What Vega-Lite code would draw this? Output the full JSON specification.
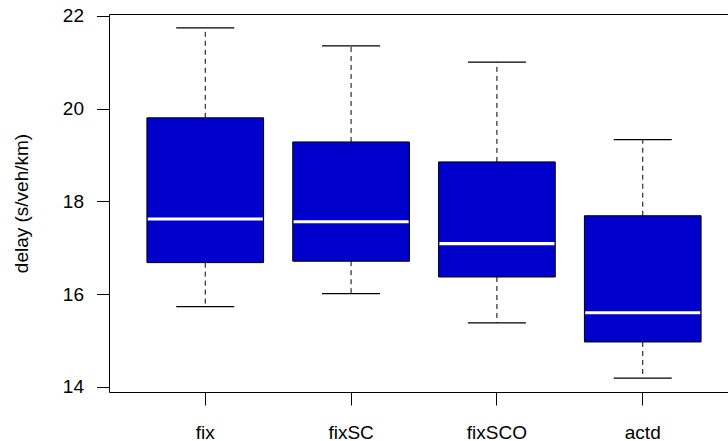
{
  "$schema": "https://vega.github.io/schema/vega-lite/v6.json",
  "autosize": "none",
  "width": 630,
  "height": 378,
  "padding": {"left": 109, "top": 14, "right": -11, "bottom": 49},
  "background": "white",
  "config": {
    "view": {"stroke": "black", "strokeWidth": 1},
    "font": "Liberation Sans",
    "axisY": {
      "domain": false,
      "grid": false,
      "tickSize": 12.5,
      "tickColor": "black",
      "tickWidth": 1,
      "labelPadding": 13,
      "labelFont": "Liberation Sans",
      "labelFontSize": 19,
      "labelColor": "black",
      "titleFont": "Liberation Sans",
      "titleFontSize": 19,
      "titleFontWeight": "normal",
      "titleColor": "black",
      "titleX": -88,
      "titleBaseline": "middle"
    },
    "axisX": {
      "title": null,
      "domain": false,
      "grid": false,
      "tickSize": 13,
      "tickColor": "black",
      "tickWidth": 1,
      "labelAngle": 0,
      "labelFont": "Liberation Sans",
      "labelFontSize": 19,
      "labelColor": "black",
      "labelBaseline": "alphabetic",
      "labelPadding": 33
    }
  },
  "data": {
    "values": [
      {"group": "fix", "lo": 15.73, "q1": 16.68, "med": 17.62, "q3": 19.80, "hi": 21.74},
      {"group": "fixSC", "lo": 16.01, "q1": 16.71, "med": 17.56, "q3": 19.28, "hi": 21.35},
      {"group": "fixSCO", "lo": 15.38, "q1": 16.37, "med": 17.09, "q3": 18.85, "hi": 21.00},
      {"group": "actd", "lo": 14.19, "q1": 14.97, "med": 15.60, "q3": 17.69, "hi": 19.33}
    ]
  },
  "encoding": {
    "x": {
      "field": "group",
      "type": "nominal",
      "sort": ["fix", "fixSC", "fixSCO", "actd"],
      "scale": {"paddingInner": 0, "paddingOuter": 0.16},
      "title": null
    }
  },
  "layer": [
    {
      "mark": {"type": "rule", "color": "black", "strokeWidth": 1, "strokeDash": [5, 4]},
      "encoding": {
        "y": {"field": "q1", "type": "quantitative", "title": "delay (s/veh/km)", "scale": {"domain": [13.892, 22.037], "nice": false, "zero": false}, "axis": {"values": [14, 16, 18, 20, 22]}},
        "y2": {"field": "lo"}
      }
    },
    {
      "mark": {"type": "rule", "color": "black", "strokeWidth": 1, "strokeDash": [5, 4]},
      "encoding": {
        "y": {"field": "q3", "type": "quantitative", "title": "delay (s/veh/km)", "axis": {"values": [14, 16, 18, 20, 22]}},
        "y2": {"field": "hi"}
      }
    },
    {
      "mark": {"type": "tick", "color": "black", "size": 58, "thickness": 1.2, "opacity": 1},
      "encoding": {
        "y": {"field": "lo", "type": "quantitative", "title": "delay (s/veh/km)", "axis": {"values": [14, 16, 18, 20, 22]}}
      }
    },
    {
      "mark": {"type": "tick", "color": "black", "size": 58, "thickness": 1.2, "opacity": 1},
      "encoding": {
        "y": {"field": "hi", "type": "quantitative", "title": "delay (s/veh/km)", "axis": {"values": [14, 16, 18, 20, 22]}}
      }
    },
    {
      "mark": {"type": "bar", "fill": "#0000CD", "stroke": "black", "strokeWidth": 1, "width": {"band": 0.8}, "opacity": 1},
      "encoding": {
        "y": {"field": "q1", "type": "quantitative", "title": "delay (s/veh/km)", "axis": {"values": [14, 16, 18, 20, 22]}},
        "y2": {"field": "q3"}
      }
    },
    {
      "mark": {"type": "tick", "color": "white", "size": 115, "thickness": 3.2, "opacity": 1},
      "encoding": {
        "y": {"field": "med", "type": "quantitative", "title": "delay (s/veh/km)", "axis": {"values": [14, 16, 18, 20, 22]}}
      }
    }
  ]
}
